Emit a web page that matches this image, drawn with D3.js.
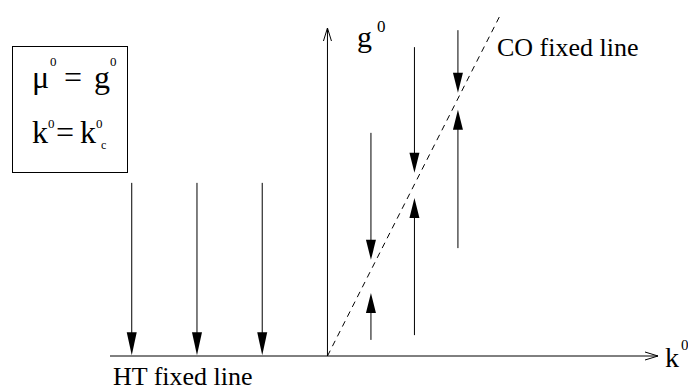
<!DOCTYPE html>
<html>
<head>
<meta charset="utf-8">
<script src="https://cdn.jsdelivr.net/npm/d3@7"></script>
<style>
  body { margin: 0; background: #fff; }
  svg text { font-family: 'Liberation Serif', 'DejaVu Serif', serif; }
</style>
</head>
<body>
<div id="chart-area"></div>
<script>
// Axis extents (k horizontal, g vertical)
var kAxis = [-5, 7.6];
var gAxis = [0, 7.54];

// CO fixed line (dashed)
var coLineK = [0, 4];
var coLineG = [0, 7.89];

// HT fixed line flow: arrows going down onto the k axis
var htK = [-4.5, -3, -1.5];
var htStart = [3.98, 3.98, 3.98];
var htTip = [0.02, 0.02, 0.02];

// CO flow: arrows from above and below pointing to the fixed line
var coK = [1, 2, 3];
var downStart = [5.13, 7.1, 7.49];
var downTip = [2.21, 4.21, 6.05];
var upStart = [0.37, 0.48, 2.48];
var upTip = [1.45, 3.63, 5.66];

// Setup SVG
var svg = d3.select('#chart-area').append('svg')
  .attr('width', 688)
  .attr('height', 392);

svg.append('rect').attr('width', 688).attr('height', 392).attr('fill', '#fff');

// Scales
var x = d3.scaleLinear().domain(kAxis).range([110, 658]);
var y = d3.scaleLinear().domain([0, 8]).range([356, 8]);

// Build arrows as list
var arrows = [];
htK.forEach(function (k, i) { arrows.push({k: k, from: htStart[i], to: htTip[i], len: 23}); });
coK.forEach(function (k, i) {
  arrows.push({k: k, from: downStart[i], to: downTip[i], len: 20});
  arrows.push({k: k, from: upStart[i], to: upTip[i], len: 20});
});

var headW = 5;

// Axes with open arrowheads
var axes = svg.append('g').attr('stroke', '#000').attr('fill', 'none').attr('stroke-width', 1);

axes.append('line')
  .attr('x1', x(kAxis[0])).attr('y1', y(0))
  .attr('x2', x(kAxis[1])).attr('y2', y(0));
axes.append('path')
  .attr('d', d3.line()([[x(kAxis[1]) - 13, y(0) - 4], [x(kAxis[1]), y(0)], [x(kAxis[1]) - 13, y(0) + 4]]));

axes.append('line')
  .attr('x1', x(0)).attr('y1', y(gAxis[0]))
  .attr('x2', x(0)).attr('y2', y(gAxis[1]));
axes.append('path')
  .attr('d', d3.line()([[x(0) - 4, y(gAxis[1]) + 13], [x(0), y(gAxis[1])], [x(0) + 4, y(gAxis[1]) + 13]]));

// Dashed CO fixed line
svg.append('path')
  .attr('d', d3.line()(coLineK.map(function (k, i) { return [x(k), y(coLineG[i])]; })))
  .attr('stroke', '#000')
  .attr('stroke-width', 1)
  .attr('stroke-dasharray', '6,5')
  .attr('fill', 'none');

// Flow arrows
var arrowG = svg.selectAll('.flow')
  .data(arrows)
  .enter()
  .append('g')
  .attr('class', 'flow');

arrowG.append('line')
  .attr('x1', function (d) { return x(d.k); })
  .attr('x2', function (d) { return x(d.k); })
  .attr('y1', function (d) { return y(d.from); })
  .attr('y2', function (d) {
    var dir = d.to < d.from ? 1 : -1;
    return y(d.to) - dir * (d.len - 2);
  })
  .attr('stroke', '#000')
  .attr('stroke-width', 1);

arrowG.append('path')
  .attr('d', function (d) {
    var dir = d.to < d.from ? 1 : -1; // 1 = pointing down on screen
    var tx = x(d.k), ty = y(d.to);
    return d3.line()([[tx, ty], [tx - headW, ty - dir * d.len], [tx + headW, ty - dir * d.len]]) + 'Z';
  })
  .attr('fill', '#000');

// Labels
function label(px, py, size, str) {
  return svg.append('text')
    .attr('x', px).attr('y', py)
    .style('font-size', size + 'px')
    .attr('fill', '#000')
    .text(str);
}

label(357, 47, 30, 'g');
label(377, 32, 17, '0');

label(497, 56, 26, 'CO fixed line');
label(113, 385, 26, 'HT fixed line');

label(665, 367, 28, 'k');
label(681, 350, 15, '0');

// Legend box
svg.append('rect')
  .attr('x', 12.5).attr('y', 46.5)
  .attr('width', 115).attr('height', 126)
  .attr('fill', 'none').attr('stroke', '#000');

label(32, 88, 32, '\u03bc');
label(50, 66, 13, '0');
label(64, 88, 32, '=');
label(94, 88, 32, 'g');
label(110, 66, 13, '0');

label(32, 143, 32, 'k');
label(48, 128, 13, '0');
label(56, 143, 32, '=');
label(80, 143, 32, 'k');
label(96, 128, 13, '0');
label(101, 149, 12, 'c');
</script>
</body>
</html>
